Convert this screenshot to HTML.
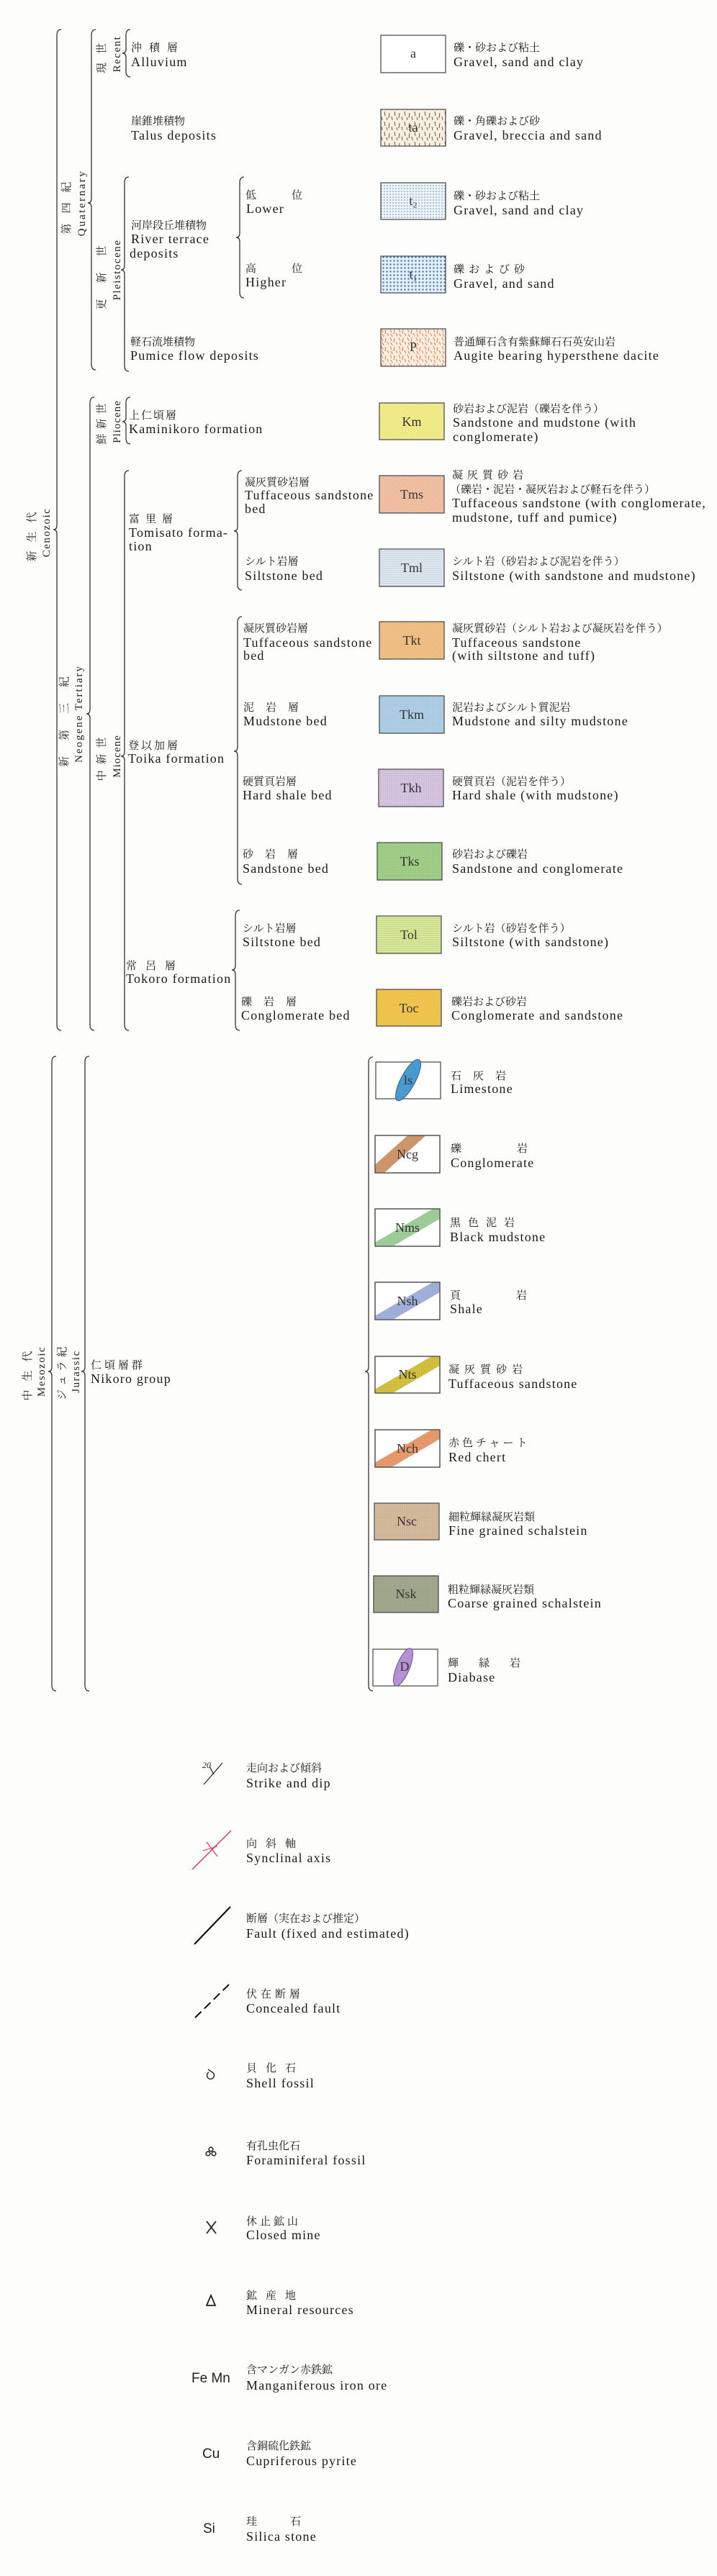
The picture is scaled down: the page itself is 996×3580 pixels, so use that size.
<!DOCTYPE html>
<html><head><meta charset="utf-8"><style>
html,body{margin:0;padding:0;background:#fdfdfb;}
svg{display:block}
.en{font-family:"Liberation Serif",serif;font-size:18px;fill:#1a1a1a;letter-spacing:1.2px;}
.jp{font-family:"Liberation Serif","Noto Serif CJK JP",serif;font-size:15px;fill:#1a1a1a;}
.lb{font-family:"Liberation Serif",serif;font-size:18px;fill:#333;text-anchor:middle;}
.v{font-family:"Liberation Serif","Noto Serif CJK JP",serif;font-size:15px;fill:#222;text-anchor:middle;}
.sy{font-family:"Liberation Sans",sans-serif;font-size:19px;fill:#222;}
.br{fill:none;stroke:#333;stroke-width:1.3}
.bx{stroke:#444;stroke-width:1.2}
</style></head><body>
<svg width="996" height="3580" viewBox="0 0 996 3580" xmlns="http://www.w3.org/2000/svg">
<defs>
<pattern id="dash" width="14" height="14" patternUnits="userSpaceOnUse"><rect width="14" height="14" fill="#f7f0e2"/><path d="M2 1 L3 7 M9 3 L8 10 M5 9 L6 13 M12 8 L13 13" stroke="#6a4a30" stroke-width="0.9"/></pattern>
<pattern id="dotl" width="4" height="4" patternUnits="userSpaceOnUse"><rect width="4" height="4" fill="#eef3f8"/><circle cx="2" cy="2" r="0.8" fill="#5a8ab8"/></pattern>
<pattern id="dotd" width="5" height="5" patternUnits="userSpaceOnUse"><rect width="5" height="5" fill="#e6eff7"/><circle cx="2.5" cy="2.5" r="1.2" fill="#3a78b0"/></pattern>
<pattern id="pum" width="12" height="12" patternUnits="userSpaceOnUse"><rect width="12" height="12" fill="#fbefe4"/><path d="M2 1 L4 6 M8 2 L7 8 M3 8 L5 12 M10 7 L12 11" stroke="#e87838" stroke-width="1"/></pattern>
<pattern id="dg" width="3" height="3" patternUnits="userSpaceOnUse" patternTransform="rotate(45)"><line x1="0" y1="0" x2="0" y2="3" stroke="#000" stroke-opacity="0.18" stroke-width="0.8"/></pattern>
<pattern id="hl" width="4" height="3" patternUnits="userSpaceOnUse"><line x1="0" y1="1" x2="4" y2="1" stroke="#000" stroke-opacity="0.2" stroke-width="0.7"/></pattern>
<pattern id="gr" width="3" height="3" patternUnits="userSpaceOnUse"><path d="M0 1 H3 M1 0 V3" stroke="#000" stroke-opacity="0.15" stroke-width="0.6"/></pattern>
<clipPath id="c1"><rect x="521" y="1578" width="90" height="52"/></clipPath>
<clipPath id="c2"><rect x="521" y="1680" width="90" height="52"/></clipPath>
<clipPath id="c3"><rect x="521" y="1782" width="90" height="52"/></clipPath>
<clipPath id="c4"><rect x="521" y="1885" width="90" height="51"/></clipPath>
<clipPath id="c5"><rect x="521" y="1987" width="90" height="52"/></clipPath>
</defs>

<g class="br">
<path d="M85,41 Q79,41 79,49 L79,730 Q79,736 74,736 Q79,736 79,742 L79,1424 Q79,1432 85,1432"/>
<path d="M133,41 Q127,41 127,49 L127,276 Q127,282 122,282 Q127,282 127,288 L127,506 Q127,514 133,514"/>
<path d="M181,41 Q175,41 175,49 L175,68 Q175,74 170,74 Q175,74 175,80 L175,99 Q175,107 181,107"/>
<path d="M179,246 Q173,246 173,254 L173,369 Q173,375 168,375 Q173,375 173,381 L173,508 Q173,516 179,516"/>
<path d="M339,246 Q333,246 333,254 L333,324 Q333,330 328,330 Q333,330 333,336 L333,406 Q333,414 339,414"/>
<path d="M131,552 Q125,552 125,560 L125,986 Q125,992 120,992 Q125,992 125,998 L125,1424 Q125,1432 131,1432"/>
<path d="M181,552 Q175,552 175,560 L175,580 Q175,586 170,586 Q175,586 175,592 L175,609 Q175,617 181,617"/>
<path d="M179,654 Q173,654 173,662 L173,1045 Q173,1051 168,1051 Q173,1051 173,1057 L173,1424 Q173,1432 179,1432"/>
<path d="M336,654 Q330,654 330,662 L330,732 Q330,738 325,738 Q330,738 330,744 L330,812 Q330,820 336,820"/>
<path d="M336,857 Q330,857 330,865 L330,1038 Q330,1044 325,1044 Q330,1044 330,1050 L330,1221 Q330,1229 336,1229"/>
<path d="M333,1265 Q327,1265 327,1273 L327,1342 Q327,1348 322,1348 Q327,1348 327,1354 L327,1424 Q327,1432 333,1432"/>
<path d="M78,1468 Q72,1468 72,1476 L72,1900 Q72,1906 67,1906 Q72,1906 72,1912 L72,2342 Q72,2350 78,2350"/>
<path d="M124,1468 Q118,1468 118,1476 L118,1900 Q118,1906 113,1906 Q118,1906 118,1912 L118,2342 Q118,2350 124,2350"/>
<path d="M518,1469 Q512,1469 512,1477 L512,1900 Q512,1906 507,1906 Q512,1906 512,1912 L512,2342 Q512,2350 518,2350"/>
</g>

<g class="v">
<text transform="rotate(-90 92 282)" x="92" y="287" letter-spacing="14">第四紀</text>
<text transform="rotate(-90 113 282)" x="113" y="287" letter-spacing="2.5">Quaternary</text>
<text transform="rotate(-90 141 75)" x="141" y="80" letter-spacing="12">現世</text>
<text transform="rotate(-90 162 75)" x="162" y="80" letter-spacing="1.5">Recent</text>
<text transform="rotate(-90 141 375)" x="141" y="380" letter-spacing="22">更新世</text>
<text transform="rotate(-90 162 375)" x="162" y="380" letter-spacing="1.5">Pleistocene</text>
<text transform="rotate(-90 141 586)" x="141" y="591" letter-spacing="6">鮮新世</text>
<text transform="rotate(-90 162 586)" x="162" y="591" letter-spacing="1">Pliocene</text>
<text transform="rotate(-90 89 992)" x="89" y="997" letter-spacing="22">新第三紀</text>
<text transform="rotate(-90 109 992)" x="109" y="997" letter-spacing="2">Neogene  Tertiary</text>
<text transform="rotate(-90 141 1051)" x="141" y="1056" letter-spacing="8">中新世</text>
<text transform="rotate(-90 162 1051)" x="162" y="1056" letter-spacing="1">Miocene</text>
<text transform="rotate(-90 44 740)" x="44" y="745" letter-spacing="12">新生代</text>
<text transform="rotate(-90 64 740)" x="64" y="745" letter-spacing="1.5">Cenozoic</text>
<text transform="rotate(-90 38 1906)" x="38" y="1911" letter-spacing="12">中生代</text>
<text transform="rotate(-90 57 1906)" x="57" y="1911" letter-spacing="1.5">Mesozoic</text>
<text transform="rotate(-90 86 1906)" x="86" y="1911" letter-spacing="5">ジュラ紀</text>
<text transform="rotate(-90 105 1906)" x="105" y="1911" letter-spacing="1.5">Jurassic</text>
</g>

<g>
<text class="jp" x="182" y="71" letter-spacing="10">沖積層</text><text class="en" x="182" y="92">Alluvium</text>
<text class="jp" x="182" y="173">崖錐堆積物</text><text class="en" x="182" y="194">Talus deposits</text>
<text class="jp" x="182" y="318">河岸段丘堆積物</text><text class="en" x="182" y="338">River terrace</text><text class="en" x="180" y="358">deposits</text>
<text class="jp" x="341" y="276">低</text><text class="jp" x="405" y="276">位</text><text class="en" x="342" y="296">Lower</text>
<text class="jp" x="341" y="378">高</text><text class="jp" x="405" y="378">位</text><text class="en" x="341" y="398">Higher</text>
<text class="jp" x="181" y="480">軽石流堆積物</text><text class="en" x="181" y="500">Pumice flow deposits</text>
<text class="jp" x="179" y="582" letter-spacing="2">上仁頃層</text><text class="en" x="179" y="602">Kaminikoro formation</text>
<text class="jp" x="179" y="726" letter-spacing="8">富里層</text><text class="en" x="179" y="746">Tomisato forma-</text><text class="en" x="179" y="765">tion</text>
<text class="jp" x="340" y="675">凝灰質砂岩層</text><text class="en" x="340" y="694">Tuffaceous sandstone</text><text class="en" x="340" y="713">bed</text>
<text class="jp" x="340" y="785">シルト岩層</text><text class="en" x="340" y="806">Siltstone bed</text>
<text class="jp" x="338" y="878">凝灰質砂岩層</text><text class="en" x="338" y="899">Tuffaceous sandstone</text><text class="en" x="338" y="917">bed</text>
<text class="jp" x="338" y="988" letter-spacing="16">泥岩層</text><text class="en" x="338" y="1008">Mudstone bed</text>
<text class="jp" x="178" y="1041" letter-spacing="3">登以加層</text><text class="en" x="178" y="1060">Toika formation</text>
<text class="jp" x="337" y="1091">硬質頁岩層</text><text class="en" x="337" y="1111">Hard shale bed</text>
<text class="jp" x="337" y="1192" letter-spacing="16">砂岩層</text><text class="en" x="337" y="1213">Sandstone bed</text>
<text class="jp" x="337" y="1295">シルト岩層</text><text class="en" x="337" y="1315">Siltstone bed</text>
<text class="jp" x="175" y="1347" letter-spacing="12">常呂層</text><text class="en" x="175" y="1366">Tokoro formation</text>
<text class="jp" x="335" y="1397" letter-spacing="16">礫岩層</text><text class="en" x="335" y="1417">Conglomerate bed</text>
<text class="jp" x="126" y="1902" letter-spacing="4">仁頃層群</text><text class="en" x="126" y="1922">Nikoro group</text>
</g>

<g>
<rect class="bx" x="529" y="49" width="90" height="52" fill="#fff"/><text class="lb" x="574" y="80" font-size="15">a</text>
<rect class="bx" x="529" y="152" width="90" height="51" fill="url(#dash)"/><text class="lb" x="574" y="183" font-size="14">ta</text>
<rect class="bx" x="529" y="254" width="90" height="51" fill="url(#dotl)"/><text class="lb" x="574" y="285" font-size="14">t₂</text>
<rect class="bx" x="529" y="356" width="90" height="51" fill="url(#dotd)"/><text class="lb" x="574" y="387" font-size="14">t₁</text>
<rect class="bx" x="529" y="457" width="90" height="52" fill="url(#pum)"/><text class="lb" x="574" y="488" font-size="15">P</text>

<rect x="527" y="560" width="90" height="51" fill="#f5ef8c"/><rect class="bx" x="527" y="560" width="90" height="51" fill="url(#dg)"/><text class="lb" x="572" y="592">Km</text>
<rect x="527" y="661" width="90" height="52" fill="#f4c2a4"/><rect class="bx" x="527" y="661" width="90" height="52" fill="url(#dg)"/><text class="lb" x="572" y="693">Tms</text>
<rect x="527" y="763" width="90" height="52" fill="#e2edf6"/><rect class="bx" x="527" y="763" width="90" height="52" fill="url(#hl)"/><text class="lb" x="572" y="795">Tml</text>
<rect x="527" y="864" width="90" height="52" fill="#f4c286"/><rect class="bx" x="527" y="864" width="90" height="52" fill="url(#dg)"/><text class="lb" x="572" y="896">Tkt</text>
<rect x="527" y="967" width="90" height="52" fill="#b6d6ee"/><rect class="bx" x="527" y="967" width="90" height="52" fill="url(#gr)"/><text class="lb" x="572" y="999">Tkm</text>
<rect x="526" y="1069" width="90" height="52" fill="#dccbe6"/><rect class="bx" x="526" y="1069" width="90" height="52" fill="url(#gr)"/><text class="lb" x="571" y="1101">Tkh</text>
<rect x="524" y="1171" width="90" height="52" fill="#a6d68c"/><rect class="bx" x="524" y="1171" width="90" height="52" fill="url(#gr)"/><text class="lb" x="569" y="1203">Tks</text>
<rect x="523" y="1273" width="90" height="52" fill="#dcee9c"/><rect class="bx" x="523" y="1273" width="90" height="52" fill="url(#hl)"/><text class="lb" x="568" y="1305">Tol</text>
<rect x="523" y="1375" width="90" height="51" fill="#f4c850"/><rect class="bx" x="523" y="1375" width="90" height="51" fill="url(#dg)"/><text class="lb" x="568" y="1407">Toc</text>
</g>

<g>
<rect class="bx" x="522" y="1476" width="90" height="51" fill="#fff"/>
<ellipse cx="567" cy="1501" rx="32" ry="10" fill="#4a9ad2" stroke="#2a5a90" transform="rotate(-62 567 1501)"/><text class="lb" x="567" y="1507">ls</text>

<rect class="bx" x="521" y="1578" width="90" height="52" fill="#fff"/>
<g clip-path="url(#c1)"><line x1="510" y1="1640" x2="590" y2="1568" stroke="#d89c70" stroke-width="17"/><line x1="510" y1="1640" x2="590" y2="1568" stroke="url(#gr)" stroke-width="17"/></g>
<rect class="bx" x="521" y="1578" width="90" height="52" fill="none"/><text class="lb" x="566" y="1610">Ncg</text>

<rect class="bx" x="521" y="1680" width="90" height="52" fill="#fff"/>
<g clip-path="url(#c2)"><line x1="515" y1="1740" x2="618" y2="1680" stroke="#a6d6a0" stroke-width="17"/><line x1="515" y1="1740" x2="618" y2="1680" stroke="url(#gr)" stroke-width="17"/></g>
<rect class="bx" x="521" y="1680" width="90" height="52" fill="none"/><text class="lb" x="566" y="1712">Nms</text>

<rect class="bx" x="521" y="1782" width="90" height="52" fill="#fff"/>
<g clip-path="url(#c3)"><line x1="515" y1="1842" x2="618" y2="1782" stroke="#a8b8e2" stroke-width="17"/><line x1="515" y1="1842" x2="618" y2="1782" stroke="url(#gr)" stroke-width="17"/></g>
<rect class="bx" x="521" y="1782" width="90" height="52" fill="none"/><text class="lb" x="566" y="1814">Nsh</text>

<rect class="bx" x="521" y="1885" width="90" height="51" fill="#fff"/>
<g clip-path="url(#c4)"><line x1="515" y1="1944" x2="618" y2="1884" stroke="#dcc840" stroke-width="17"/><line x1="515" y1="1944" x2="618" y2="1884" stroke="url(#gr)" stroke-width="17"/></g>
<rect class="bx" x="521" y="1885" width="90" height="51" fill="none"/><text class="lb" x="566" y="1916">Nts</text>

<rect class="bx" x="521" y="1987" width="90" height="52" fill="#fff"/>
<g clip-path="url(#c5)"><line x1="515" y1="2046" x2="618" y2="1986" stroke="#f2a070" stroke-width="17"/><line x1="515" y1="2046" x2="618" y2="1986" stroke="url(#gr)" stroke-width="17"/></g>
<rect class="bx" x="521" y="1987" width="90" height="52" fill="none"/><text class="lb" x="566" y="2019">Nch</text>

<rect x="520" y="2089" width="90" height="51" fill="#dcc0a2"/><rect class="bx" x="520" y="2089" width="90" height="51" fill="url(#gr)"/><text class="lb" x="565" y="2120">Nsc</text>
<rect x="519" y="2190" width="90" height="51" fill="#a8ae92"/><rect class="bx" x="519" y="2190" width="90" height="51" fill="url(#gr)"/><text class="lb" x="564" y="2221">Nsk</text>

<rect class="bx" x="518" y="2292" width="90" height="51" fill="#fff"/>
<ellipse cx="560" cy="2317" rx="28" ry="9" fill="#b692d4" stroke="#6a4a90" transform="rotate(-68 560 2317)"/><text class="lb" x="562" y="2322">D</text>
</g>

<g>
<text class="jp" x="630" y="71">礫・砂および粘土</text><text class="en" x="630" y="92">Gravel, sand and clay</text>
<text class="jp" x="630" y="173">礫・角礫および砂</text><text class="en" x="630" y="194">Gravel, breccia and sand</text>
<text class="jp" x="630" y="277">礫・砂および粘土</text><text class="en" x="630" y="298">Gravel, sand and clay</text>
<text class="jp" x="630" y="379" letter-spacing="6">礫および砂</text><text class="en" x="630" y="400">Gravel, and sand</text>
<text class="jp" x="630" y="480">普通輝石含有紫蘇輝石石英安山岩</text><text class="en" x="630" y="500">Augite bearing hypersthene dacite</text>
<text class="jp" x="629" y="573">砂岩および泥岩（礫岩を伴う）</text><text class="en" x="629" y="593">Sandstone and mudstone (with</text><text class="en" x="629" y="613">conglomerate)</text>
<text class="jp" x="628" y="665" letter-spacing="6">凝灰質砂岩</text><text class="jp" x="625" y="685">（礫岩・泥岩・凝灰岩および軽石を伴う）</text><text class="en" x="628" y="705">Tuffaceous sandstone (with conglomerate,</text><text class="en" x="628" y="725">mudstone, tuff and pumice)</text>
<text class="jp" x="628" y="785">シルト岩（砂岩および泥岩を伴う）</text><text class="en" x="628" y="806">Siltstone (with sandstone and mudstone)</text>
<text class="jp" x="628" y="878">凝灰質砂岩（シルト岩および凝灰岩を伴う）</text><text class="en" x="628" y="899">Tuffaceous sandstone</text><text class="en" x="628" y="917">(with siltstone and tuff)</text>
<text class="jp" x="628" y="988">泥岩およびシルト質泥岩</text><text class="en" x="628" y="1008">Mudstone and silty mudstone</text>
<text class="jp" x="628" y="1091">硬質頁岩（泥岩を伴う）</text><text class="en" x="628" y="1111">Hard shale (with mudstone)</text>
<text class="jp" x="628" y="1192">砂岩および礫岩</text><text class="en" x="628" y="1213">Sandstone and conglomerate</text>
<text class="jp" x="628" y="1295">シルト岩（砂岩を伴う）</text><text class="en" x="628" y="1315">Siltstone (with sandstone)</text>
<text class="jp" x="627" y="1397">礫岩および砂岩</text><text class="en" x="627" y="1417">Conglomerate and sandstone</text>
<text class="jp" x="626" y="1500" letter-spacing="16">石灰岩</text><text class="en" x="626" y="1519">Limestone</text>
<text class="jp" x="626" y="1601">礫</text><text class="jp" x="718" y="1601">岩</text><text class="en" x="626" y="1622">Conglomerate</text>
<text class="jp" x="625" y="1704" letter-spacing="10">黒色泥岩</text><text class="en" x="625" y="1725">Black mudstone</text>
<text class="jp" x="625" y="1805">頁</text><text class="jp" x="717" y="1805">岩</text><text class="en" x="625" y="1825">Shale</text>
<text class="jp" x="623" y="1908" letter-spacing="7">凝灰質砂岩</text><text class="en" x="623" y="1929">Tuffaceous sandstone</text>
<text class="jp" x="623" y="2010" letter-spacing="4">赤色チャート</text><text class="en" x="623" y="2031">Red chert</text>
<text class="jp" x="623" y="2113">細粒輝緑凝灰岩類</text><text class="en" x="623" y="2133">Fine grained schalstein</text>
<text class="jp" x="622" y="2214">粗粒輝緑凝灰岩類</text><text class="en" x="622" y="2234">Coarse grained schalstein</text>
<text class="jp" x="622" y="2316" letter-spacing="28">輝緑岩</text><text class="en" x="622" y="2337">Diabase</text>
</g>

<g>
<text x="281" y="2457" font-family="Liberation Serif,serif" font-size="12" font-style="italic" fill="#222">20</text>
<line x1="283" y1="2480" x2="309" y2="2450" stroke="#222" stroke-width="1.2"/>
<line x1="291" y1="2455" x2="297" y2="2466" stroke="#222" stroke-width="1.2"/>
<line x1="267" y1="2598" x2="321" y2="2544" stroke="#e0305a" stroke-width="1.4"/>
<line x1="287" y1="2560" x2="302" y2="2580" stroke="#e0305a" stroke-width="1.2"/>
<line x1="282" y1="2572" x2="302" y2="2566" stroke="#e0305a" stroke-width="1"/>
<line x1="270" y1="2702" x2="320" y2="2650" stroke="#111" stroke-width="2.2"/>
<line x1="271" y1="2804" x2="318" y2="2758" stroke="#111" stroke-width="2" stroke-dasharray="12 6"/>
<path d="M290,2880 a5,5 0 1 0 5,0 M295,2880 L289,2876" fill="none" stroke="#222" stroke-width="1.4"/>
<circle cx="289" cy="2993" r="2.8" fill="none" stroke="#222" stroke-width="1.6"/><circle cx="297" cy="2993" r="2.8" fill="none" stroke="#222" stroke-width="1.6"/><circle cx="293" cy="2987" r="2.8" fill="none" stroke="#222" stroke-width="1.6"/>
<path d="M287,3087 L300,3104 M300,3087 L287,3104" stroke="#222" stroke-width="1.8"/>
<path d="M293,3190 L299,3204 L287,3204 Z" fill="none" stroke="#222" stroke-width="1.8"/>
<text class="sy" x="266" y="3311">Fe Mn</text>
<text class="sy" x="281" y="3416">Cu</text>
<text class="sy" x="282" y="3520">Si</text>
</g>
<g>
<text class="jp" x="342" y="2462">走向および傾斜</text><text class="en" x="342" y="2484">Strike and dip</text>
<text class="jp" x="342" y="2567" letter-spacing="12">向斜軸</text><text class="en" x="342" y="2588">Synclinal axis</text>
<text class="jp" x="342" y="2671">断層（実在および推定）</text><text class="en" x="342" y="2693">Fault (fixed and estimated)</text>
<text class="jp" x="342" y="2776" letter-spacing="5">伏在断層</text><text class="en" x="342" y="2797">Concealed fault</text>
<text class="jp" x="342" y="2879" letter-spacing="12">貝化石</text><text class="en" x="342" y="2901">Shell fossil</text>
<text class="jp" x="342" y="2987">有孔虫化石</text><text class="en" x="342" y="3008">Foraminiferal fossil</text>
<text class="jp" x="342" y="3092" letter-spacing="4">休止鉱山</text><text class="en" x="342" y="3112">Closed mine</text>
<text class="jp" x="342" y="3195" letter-spacing="12">鉱産地</text><text class="en" x="342" y="3216">Mineral resources</text>
<text class="jp" x="342" y="3298">含マンガン赤鉄鉱</text><text class="en" x="342" y="3321">Manganiferous iron ore</text>
<text class="jp" x="342" y="3404">含銅硫化鉄鉱</text><text class="en" x="342" y="3426">Cupriferous pyrite</text>
<text class="jp" x="342" y="3509">珪</text><text class="jp" x="403" y="3509">石</text><text class="en" x="342" y="3531">Silica stone</text>
</g>
</svg>
</body></html>
